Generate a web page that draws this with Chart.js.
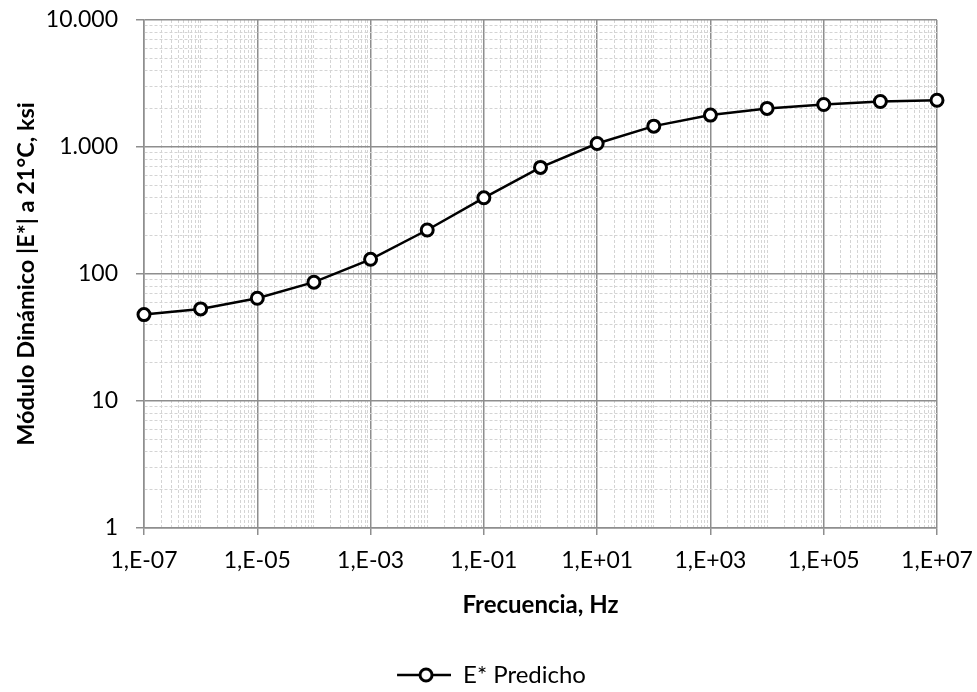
<!DOCTYPE html>
<html>
<head>
<meta charset="utf-8">
<script src="https://cdn.jsdelivr.net/npm/chart.js@4.4.1/dist/chart.umd.min.js"></script>
<style>
  html, body { margin: 0; padding: 0; background: #ffffff; }
  #wrap { width: 977px; height: 692px; }
</style>
</head>
<body>
<div id="wrap"><canvas id="c" width="977" height="692"></canvas></div>
<script>
// Frequency sweep (Hz) and predicted dynamic modulus |E*| at 21 °C (ksi)
const frequencies = [1e-7, 1e-6, 1e-5, 1e-4, 1e-3, 1e-2, 1e-1, 1e0, 1e1, 1e2, 1e3, 1e4, 1e5, 1e6, 1e7];
const modulus = [47.9, 53.1, 64.4, 86.2, 130.5, 222, 398, 691, 1066, 1460, 1783, 2013, 2163, 2281, 2336];

const seriesLabel = 'E* Predicho';
const xTitle = 'Frecuencia, Hz';
const yTitle = 'Módulo Dinámico |E*| a 21°C, ksi';

// Labelled decades on each axis and their text
const xMajorExponents = [-7, -5, -3, -1, 1, 3, 5, 7];
const xTickLabels = ['1,E-07', '1,E-05', '1,E-03', '1,E-01', '1,E+01', '1,E+03', '1,E+05', '1,E+07'];
const yMajorExponents = [0, 1, 2, 3, 4];
const yTickLabels = ['1', '10', '100', '1.000', '10.000'];

const FONT = 'Lato, "Open Sans", sans-serif';
const MAJOR_GRID = '#8e8e8e';
const MINOR_GRID = '#d4d4d4';

function decade(v) {
  const e = Math.floor(Math.log10(v) + 1e-9);
  const m = Math.round(v / Math.pow(10, e));
  return { e, m };
}
function logTicks(minE, maxE) {
  const t = [];
  for (let e = minE; e < maxE; e++) {
    for (let m = 1; m <= 9; m++) t.push({ value: Number(m + 'e' + e) });
  }
  t.push({ value: Number('1e' + maxE) });
  return t;
}
function majorIndex(v, exps) {
  const d = decade(v);
  return d.m === 1 ? exps.indexOf(d.e) : -1;
}

// Legend swatch: line with an open circle marker (left part kept blank so the
// entry sits under the middle of the plot)
const SWATCH_W = 100, SWATCH_LEAD = 46;
const swatch = document.createElement('canvas');
swatch.width = SWATCH_W; swatch.height = 18;
(function () {
  const g = swatch.getContext('2d');
  g.strokeStyle = '#000'; g.lineWidth = 2.5;
  g.beginPath(); g.moveTo(SWATCH_LEAD, 9); g.lineTo(SWATCH_W, 9); g.stroke();
  g.fillStyle = '#fff'; g.lineWidth = 3;
  g.beginPath(); g.arc(SWATCH_LEAD + 29, 9, 6, 0, Math.PI * 2); g.fill(); g.stroke();
})();

function gridFor(exps) {
  return {
    color: c => (c.tick && majorIndex(c.tick.value, exps) >= 0) ? MAJOR_GRID : MINOR_GRID,
    lineWidth: c => (c.tick && majorIndex(c.tick.value, exps) >= 0) ? 1.5 : 1,
    tickColor: c => (c.tick && majorIndex(c.tick.value, exps) >= 0) ? MAJOR_GRID : 'rgba(0,0,0,0)',
    tickWidth: 1.5
  };
}

new Chart(document.getElementById('c'), {
  type: 'line',
  data: {
    datasets: [{
      label: seriesLabel,
      data: frequencies.map((f, i) => ({ x: f, y: modulus[i] })),
      borderColor: '#000000',
      borderWidth: 2.5,
      pointRadius: 6,
      pointBorderWidth: 3,
      pointBackgroundColor: '#ffffff',
      pointBorderColor: '#000000',
      tension: 0,
      clip: false
    }]
  },
  options: {
    responsive: false,
    animation: false,
    devicePixelRatio: 1,
    layout: { padding: { left: 0, right: 40, top: 20, bottom: -5 } },
    plugins: {
      tooltip: { enabled: false },
      legend: {
        position: 'bottom',
        labels: {
          usePointStyle: true,
          pointStyle: swatch,
          pointStyleWidth: SWATCH_W,
          padding: 4,
          color: '#000',
          font: { family: FONT, size: 24 }
        }
      }
    },
    scales: {
      x: {
        type: 'logarithmic',
        min: 1e-7,
        max: 1e7,
        afterBuildTicks: s => { s.ticks = logTicks(-7, 7); },
        afterFit: s => { s.height = 131; s.paddingLeft = 0; s.paddingRight = 0; },
        ticks: {
          autoSkip: false,
          maxRotation: 0,
          minRotation: 0,
          padding: 12,
          color: '#000',
          font: { family: FONT, size: 23 },
          callback: v => { const k = majorIndex(v, xMajorExponents); return k >= 0 ? xTickLabels[k] : ''; }
        },
        grid: Object.assign(gridFor(xMajorExponents), { tickLength: 7 }),
        border: {
          display: true, color: MAJOR_GRID, width: 1.5,
          dash: c => (c.tick && majorIndex(c.tick.value, xMajorExponents) < 0) ? [3, 2] : []
        },
        title: {
          display: true, text: xTitle, color: '#000',
          font: { family: FONT, size: 24, weight: 'bold' },
          padding: { top: 0, bottom: 39 }
        }
      },
      y: {
        type: 'logarithmic',
        min: 1,
        max: 10000,
        afterBuildTicks: s => { s.ticks = logTicks(0, 4); },
        afterFit: s => { s.width = 144; s.paddingTop = 0; s.paddingBottom = 0; },
        ticks: {
          autoSkip: false,
          padding: 18,
          color: '#000',
          font: { family: FONT, size: 23 },
          callback: v => { const k = majorIndex(v, yMajorExponents); return k >= 0 ? yTickLabels[k] : ''; }
        },
        grid: Object.assign(gridFor(yMajorExponents), { tickLength: 8 }),
        border: {
          display: true, color: MAJOR_GRID, width: 1.5,
          dash: c => (c.tick && majorIndex(c.tick.value, yMajorExponents) < 0) ? [3, 2] : []
        },
        title: {
          display: true, text: yTitle, color: '#000',
          font: { family: FONT, size: 23.5, weight: 'bold' },
          padding: { top: 12, bottom: 0 }
        }
      }
    }
  }
});
</script>
</body>
</html>
